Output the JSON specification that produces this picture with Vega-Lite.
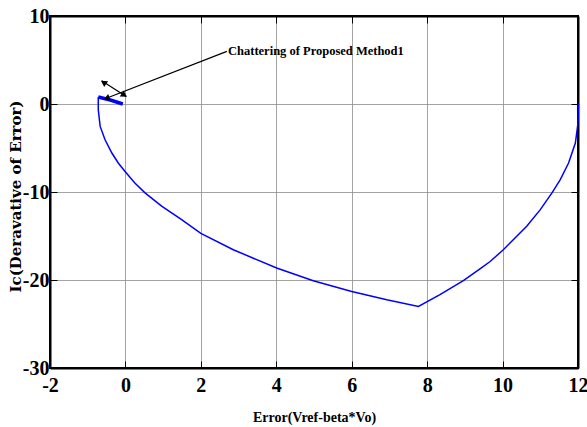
{
  "$schema": "https://vega.github.io/schema/vega-lite/v6.json",
  "width": 528,
  "height": 352,
  "autosize": "none",
  "padding": {"left": 50, "top": 16, "right": 9, "bottom": 59},
  "background": "white",
  "config": {
    "view": {"stroke": "black", "strokeWidth": 2},
    "axis": {
      "labelFont": "Liberation Serif",
      "labelFontWeight": "bold",
      "labelFontSize": 20,
      "labelColor": "black",
      "labelFlush": false,
      "labelExpr": "'' + datum.value",
      "domainColor": "black",
      "domainWidth": 2,
      "tickColor": "black",
      "tickSize": -7,
      "tickWidth": 1,
      "gridColor": "#8c8c8c",
      "gridWidth": 1,
      "gridOpacity": 0.8
    }
  },
  "datasets": {
    "curve": [
      {"i": 0, "e": 12.02, "ic": 0},
      {"i": 1, "e": 12.01, "ic": -0.08},
      {"i": 2, "e": 12.0, "ic": -2.16},
      {"i": 3, "e": 11.93, "ic": -4.43},
      {"i": 4, "e": 11.75, "ic": -6.7},
      {"i": 5, "e": 11.53, "ic": -8.6},
      {"i": 6, "e": 11.31, "ic": -10.1},
      {"i": 7, "e": 11.0, "ic": -12.0},
      {"i": 8, "e": 10.64, "ic": -13.9},
      {"i": 9, "e": 10.29, "ic": -15.4},
      {"i": 10, "e": 10.02, "ic": -16.56},
      {"i": 11, "e": 9.67, "ic": -17.9},
      {"i": 12, "e": 9.41, "ic": -18.7},
      {"i": 13, "e": 8.96, "ic": -20.08},
      {"i": 14, "e": 8.34, "ic": -21.67},
      {"i": 15, "e": 7.77, "ic": -23.0},
      {"i": 16, "e": 6.93, "ic": -22.24},
      {"i": 17, "e": 6.0, "ic": -21.3},
      {"i": 18, "e": 4.98, "ic": -20.08},
      {"i": 19, "e": 4.01, "ic": -18.64},
      {"i": 20, "e": 2.86, "ic": -16.56},
      {"i": 21, "e": 2.0, "ic": -14.7},
      {"i": 22, "e": 1.49, "ic": -13.15},
      {"i": 23, "e": 0.96, "ic": -11.6},
      {"i": 24, "e": 0.52, "ic": -10.1},
      {"i": 25, "e": 0.25, "ic": -8.98},
      {"i": 26, "e": -0.01, "ic": -7.66},
      {"i": 27, "e": -0.19, "ic": -6.7},
      {"i": 28, "e": -0.36, "ic": -5.57},
      {"i": 29, "e": -0.54, "ic": -4.06},
      {"i": 30, "e": -0.67, "ic": -2.55},
      {"i": 31, "e": -0.72, "ic": -0.65},
      {"i": 32, "e": -0.72, "ic": 0.8}
    ],
    "chatter": [
      {"i": 0, "e": -0.72, "ic": 0.8},
      {"i": 1, "e": -0.4, "ic": 0.45},
      {"i": 2, "e": -0.07, "ic": 0.0}
    ],
    "arrows": [
      {"e": 2.69, "ic": 5.98, "e2": -0.54, "ic2": 0.6},
      {"e": -0.63, "ic": 2.65, "e2": 0.02, "ic2": 0.86}
    ],
    "headA": [{"e": -0.5, "ic": 0.65}],
    "headB": [{"e": -0.58, "ic": 2.45}],
    "headC": [{"e": -0.03, "ic": 1.0}],
    "label": [{"e": 2.72, "ic": 6.0, "txt": "Chattering of Proposed Method1"}]
  },
  "resolve": {"axis": {"x": "independent", "y": "independent"}},
  "layer": [
    {
      "data": {"name": "curve"},
      "mark": {"type": "line", "color": "#0000ff", "strokeWidth": 1.5},
      "encoding": {
        "x": {
          "field": "e", "type": "quantitative",
          "scale": {"domain": [-2, 12], "nice": false, "zero": false},
          "axis": {
            "orient": "bottom", "values": [-2, 0, 2, 4, 6, 8, 10, 12],
            "title": "Error(Vref-beta*Vo)",
            "titleFont": "Liberation Serif", "titleFontWeight": "bold", "titleFontSize": 14,
            "titleColor": "black", "titleY": 49, "titleBaseline": "middle",
            "labelPadding": 14, "grid": true
          }
        },
        "y": {
          "field": "ic", "type": "quantitative",
          "scale": {"domain": [-30, 10], "nice": false, "zero": false},
          "axis": {
            "orient": "left", "values": [-30, -20, -10, 0, 10],
            "title": "Ic(Deravative of Error)",
            "titleFont": "DejaVu Serif", "titleFontWeight": "bold", "titleFontSize": 15,
            "titleColor": "black", "titleX": -35, "titleY": 180,
            "titleAngle": -90, "titleAlign": "center", "titleBaseline": "middle",
            "labelPadding": 8, "grid": true
          }
        },
        "order": {"field": "i", "type": "quantitative"}
      }
    },
    {
      "data": {"name": "chatter"},
      "mark": {"type": "line", "color": "#0000ff", "strokeWidth": 3.5},
      "encoding": {
        "x": {"field": "e", "type": "quantitative",
          "axis": {"orient": "top", "values": [-2, 0, 2, 4, 6, 8, 10, 12], "labels": false, "title": null, "grid": false}},
        "y": {"field": "ic", "type": "quantitative",
          "axis": {"orient": "right", "values": [-30, -20, -10, 0, 10], "labels": false, "title": null, "grid": false}},
        "order": {"field": "i", "type": "quantitative"}
      }
    },
    {
      "data": {"name": "arrows"},
      "mark": {"type": "rule", "color": "black", "strokeWidth": 1.2},
      "encoding": {
        "x": {"field": "e", "type": "quantitative", "axis": null},
        "y": {"field": "ic", "type": "quantitative", "axis": null},
        "x2": {"field": "e2"},
        "y2": {"field": "ic2"}
      }
    },
    {
      "data": {"name": "headA"},
      "mark": {"type": "point", "shape": "triangle-up", "filled": true, "color": "black", "size": 50, "angle": 249, "opacity": 1},
      "encoding": {
        "x": {"field": "e", "type": "quantitative", "axis": null},
        "y": {"field": "ic", "type": "quantitative", "axis": null}
      }
    },
    {
      "data": {"name": "headB"},
      "mark": {"type": "point", "shape": "triangle-up", "filled": true, "color": "black", "size": 50, "angle": 303, "opacity": 1},
      "encoding": {
        "x": {"field": "e", "type": "quantitative", "axis": null},
        "y": {"field": "ic", "type": "quantitative", "axis": null}
      }
    },
    {
      "data": {"name": "headC"},
      "mark": {"type": "point", "shape": "triangle-up", "filled": true, "color": "black", "size": 50, "angle": 123, "opacity": 1},
      "encoding": {
        "x": {"field": "e", "type": "quantitative", "axis": null},
        "y": {"field": "ic", "type": "quantitative", "axis": null}
      }
    },
    {
      "data": {"name": "label"},
      "mark": {"type": "text", "align": "left", "baseline": "middle", "font": "Liberation Serif", "fontWeight": "bold", "fontSize": 12.5, "color": "black"},
      "encoding": {
        "x": {"field": "e", "type": "quantitative", "axis": null},
        "y": {"field": "ic", "type": "quantitative", "axis": null},
        "text": {"field": "txt"}
      }
    }
  ]
}
